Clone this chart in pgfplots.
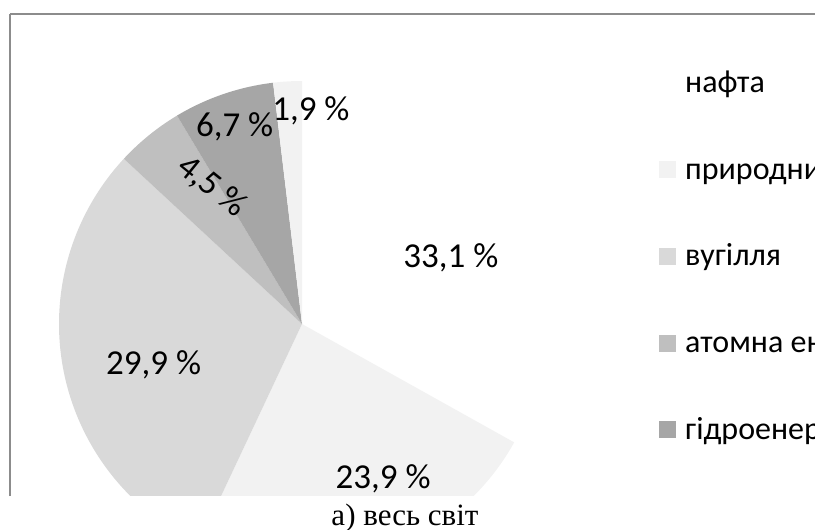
\documentclass[border=0pt]{standalone}
\usepackage{pgfplots}
\pgfplotsset{compat=1.18}
\usepackage{pgfplotstable}
\usepackage{fontspec}
\setmainfont{Carlito}
\newfontfamily\capfont{Liberation Serif}
\definecolor{cNafta}{HTML}{FFFFFF}
\definecolor{cGas}{HTML}{F2F2F2}
\definecolor{cCoal}{HTML}{D9D9D9}
\definecolor{cAtom}{HTML}{BFBFBF}
\definecolor{cHydro}{HTML}{A6A6A6}
\definecolor{cOther}{HTML}{F2F2F2}
\definecolor{cFrame}{HTML}{8C8C8C}

% share of world energy consumption, percent
\pgfplotstableread[col sep=comma]{
name,value,color,lr,lda,lrot
нафта,33.1,cNafta,163,-6.4,0
природний газ,23.9,cGas,175,9.8,0
вугілля,29.9,cCoal,154,4.5,0
атомна енергія,4.5,cAtom,164,-5.8,-39
гідроенергія,6.7,cHydro,208,0,0
інші,1.9,cOther,213,-5.8,0
}\energy

\def\cx{302}\def\cy{206}\def\R{243}
\begin{document}
\begin{tikzpicture}
\path[use as bounding box, clip] (0,0) rectangle (815bp,530bp);
\begin{axis}[
  x=1bp, y=1bp,
  xmin=10, xmax=815, ymin=34, ymax=516,
  at={(10bp,34bp)}, anchor=south west,
  scale only axis,
  axis x line=top, axis y line=left,
  axis line style={cFrame, line width=2bp, -},
  xtick=\empty, ytick=\empty,
  clip=true,
]
\def\astart{90}
\pgfplotsforeachungrouped \i in {0,...,5}{%
  \pgfplotstablegetelem{\i}{value}\of\energy \let\v\pgfplotsretval
  \pgfplotstablegetelem{\i}{color}\of\energy \let\c\pgfplotsretval
  \pgfmathsetmacro\aend{\astart-3.6*\v}%
  \edef\cmd{\noexpand\fill[\c] (axis cs:\cx,\cy) -- ++(\astart:\R bp) arc[start angle=\astart, end angle=\aend, radius=\R bp] -- cycle;}%
  \cmd
  \let\astart\aend
}
\def\astart{90}
\pgfplotsforeachungrouped \i in {0,...,5}{%
  \pgfplotstablegetelem{\i}{value}\of\energy \let\v\pgfplotsretval
  \pgfplotstablegetelem{\i}{lr}\of\energy \let\lr\pgfplotsretval
  \pgfplotstablegetelem{\i}{lda}\of\energy \let\lda\pgfplotsretval
  \pgfplotstablegetelem{\i}{lrot}\of\energy \let\lrot\pgfplotsretval
  \pgfmathsetmacro\aend{\astart-3.6*\v}%
  \pgfmathsetmacro\amid{(\astart+\aend)/2+\lda}%
  \pgfmathsetmacro\lx{\cx+\lr*cos(\amid)}%
  \pgfmathsetmacro\ly{\cy+\lr*sin(\amid)}%
  \edef\cmd{\noexpand\node[rotate=\lrot, inner sep=0pt, font=\noexpand\fontsize{35bp}{40bp}\noexpand\selectfont] at (axis cs:\lx,\ly) {\noexpand\pgfmathprintnumber[fixed,fixed zerofill,precision=1,use comma,assume math mode=true]{\v} \noexpand\%};}%
  \cmd
  \let\astart\aend
}
% legend
\pgfplotsforeachungrouped \i in {0,...,5}{%
  \pgfplotstablegetelem{\i}{color}\of\energy \let\c\pgfplotsretval
  \pgfplotstablegetelem{\i}{name}\of\energy \let\n\pgfplotsretval
  \pgfmathsetmacro\ly{447-86.7*\i}%
  \pgfmathsetmacro\lyt{\ly+8.5}%
  \pgfmathsetmacro\lyb{\ly-8.5}%
  \pgfmathsetmacro\lybase{\ly-9.5}%
  \edef\cmd{\noexpand\fill[\c] (axis cs:659,\lyb) rectangle (axis cs:676,\lyt);}%
  \cmd
  \edef\cmd{\noexpand\node[anchor=base west, inner sep=0pt, font=\noexpand\fontsize{32bp}{38bp}\noexpand\selectfont] at (axis cs:685,\lybase) {\n};}%
  \cmd
}
\end{axis}
\node[anchor=base, inner sep=0pt, font=\capfont\fontsize{31bp}{36bp}\selectfont] at (405bp,5bp) {а) весь світ};
\end{tikzpicture}
\end{document}
